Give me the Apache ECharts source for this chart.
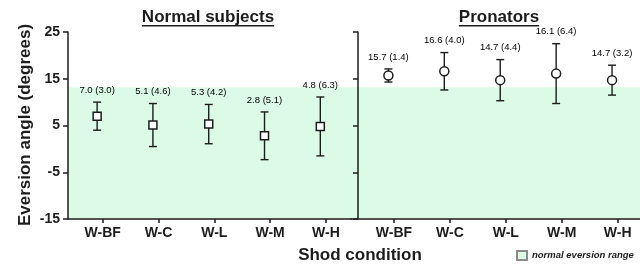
<!DOCTYPE html>
<html>
<head>
<meta charset="utf-8">
<script src="https://cdn.jsdelivr.net/npm/echarts@6/dist/echarts.min.js"></script>
<style>
  html, body { margin: 0; padding: 0; background: #fff; }
  #chart { width: 640px; height: 268px; }
</style>
</head>
<body>
<div id="chart"></div>
<script>
// ---- data ----
const categories = ['W-BF', 'W-C', 'W-L', 'W-M', 'W-H'];
const normalMean = [7.0, 5.1, 5.3, 2.8, 4.8];
const normalSD = [3.0, 4.6, 4.2, 5.1, 6.3];
const pronMean = [15.7, 16.6, 14.7, 16.1, 14.7];
const pronSD = [1.4, 4.0, 4.4, 6.4, 3.2];
const yTicks = [-15, -5, 5, 15, 25];
const normalRange = [-15, 13.2];
const panelTitles = ['Normal subjects', 'Pronators'];
const yTitle = 'Eversion angle (degrees)';
const xTitle = 'Shod condition';
const legendLabel = 'normal eversion range';

// ---- style ----
const FONT = '"Liberation Sans", Arial, Helvetica, sans-serif';
const INK = '#1c1c1c';
const GREEN = '#dcfbe6';
const OFFSET = -0.1; // markers sit slightly left of the category tick

const chart = echarts.init(document.getElementById('chart'), null, { renderer: 'canvas' });

const catIdx = categories.map((_, i) => i);

function xAxisCfg(gridIndex, min, max) {
  return {
    type: 'value', gridIndex, min, max,
    axisLine: { show: true, onZero: false, lineStyle: { color: INK, width: 1.5 } },
    axisTick: { show: true, length: 4, customValues: catIdx, lineStyle: { color: INK, width: 1.5 } },
    axisLabel: {
      show: true, customValues: catIdx, margin: 7,
      formatter: v => categories[Math.round(v)] || '',
      fontFamily: FONT, fontWeight: 'bold', fontSize: 14, color: INK
    },
    splitLine: { show: false }
  };
}
function yAxisCfg(gridIndex, showLabels, offset) {
  return {
    type: 'value', gridIndex, min: yTicks[0], max: yTicks[yTicks.length - 1], offset,
    axisLine: { show: true, onZero: false, lineStyle: { color: INK, width: 1.5 } },
    axisTick: { show: true, length: 5, customValues: yTicks, lineStyle: { color: INK, width: 1.5 } },
    axisLabel: {
      show: showLabels, customValues: yTicks, margin: 8,
      fontFamily: FONT, fontWeight: 'bold', fontSize: 14, color: INK
    },
    splitLine: { show: false }
  };
}

function bandSeries(idx) {
  return {
    name: legendLabel,
    type: 'custom', xAxisIndex: idx, yAxisIndex: idx, z: -1, silent: true,
    itemStyle: { color: GREEN, borderColor: '#8a8a8a', borderWidth: 1 },
    data: [[normalRange[0], normalRange[1]]],
    renderItem: function (params, api) {
      const cs = params.coordSys;
      const yTop = api.coord([0, api.value(1)])[1];
      const yBot = api.coord([0, api.value(0)])[1];
      return {
        type: 'rect',
        shape: { x: cs.x, y: yTop, width: cs.width, height: yBot - yTop },
        style: { fill: GREEN }
      };
    }
  };
}

function errorSeries(idx, means, sds) {
  return {
    type: 'custom', xAxisIndex: idx, yAxisIndex: idx, z: 3, silent: true,
    data: means.map((m, i) => [i, m, sds[i]]),
    renderItem: function (params, api) {
      const x = api.value(0) + OFFSET, m = api.value(1), s = api.value(2);
      const top = api.coord([x, m + s]);
      const bot = api.coord([x, m - s]);
      const hw = 4;
      const ls = { stroke: INK, lineWidth: 1.4 };
      return {
        type: 'group',
        children: [
          { type: 'line', shape: { x1: top[0], y1: top[1], x2: bot[0], y2: bot[1] }, style: ls },
          { type: 'line', shape: { x1: top[0] - hw, y1: top[1], x2: top[0] + hw, y2: top[1] }, style: ls },
          { type: 'line', shape: { x1: bot[0] - hw, y1: bot[1], x2: bot[0] + hw, y2: bot[1] }, style: ls },
          {
            type: 'text', x: top[0], y: top[1] - 12,
            style: {
              text: m.toFixed(1) + ' (' + s.toFixed(1) + ')',
              fill: '#000', font: 'normal 9.5px ' + FONT,
              align: 'center', verticalAlign: 'middle'
            }
          }
        ]
      };
    }
  };
}

function markerSeries(idx, means, symbol, size) {
  return {
    type: 'custom', xAxisIndex: idx, yAxisIndex: idx, z: 4, silent: true,
    data: means.map((m, i) => [i, m]),
    renderItem: function (params, api) {
      const p = api.coord([api.value(0) + OFFSET, api.value(1)]);
      const style = { fill: '#fff', stroke: INK, lineWidth: 1.5 };
      if (symbol === 'rect') {
        return { type: 'rect', shape: { x: p[0] - size / 2, y: p[1] - size / 2, width: size, height: size }, style };
      }
      return { type: 'circle', shape: { cx: p[0], cy: p[1], r: size / 2 }, style };
    }
  };
}

// text measurement for underlines
const mctx = document.createElement('canvas').getContext('2d');
mctx.font = 'bold 17px ' + FONT;
function underlinedTitle(text, cx, cy) {
  const w = mctx.measureText(text).width;
  return [
    { type: 'text', x: cx, y: cy, style: { text, font: 'bold 17px ' + FONT, fill: INK, align: 'center', verticalAlign: 'middle' } },
    { type: 'rect', shape: { x: cx - w / 2, y: cy + 7.5, width: w, height: 1.6 }, style: { fill: INK } }
  ];
}

const option = {
  animation: false,
  backgroundColor: '#fff',
  grid: [
    { left: 68, top: 32, width: 283, height: 187 },
    { left: 351, top: 32, right: 0, height: 187 }
  ],
  xAxis: [xAxisCfg(0, -0.622, 4.45), xAxisCfg(1, -0.769, 4.40)],
  yAxis: [yAxisCfg(0, true, 0), yAxisCfg(1, false, -7)],
  legend: {
    show: true, data: [legendLabel], left: 516, top: 250,
    icon: 'rect', itemWidth: 10, itemHeight: 9, itemGap: 4, padding: 0,
    textStyle: { fontFamily: FONT, fontStyle: 'italic', fontWeight: 'bold', fontSize: 9.5, color: INK }
  },
  series: [
    bandSeries(0), bandSeries(1),
    errorSeries(0, normalMean, normalSD), errorSeries(1, pronMean, pronSD),
    markerSeries(0, normalMean, 'rect', 8), markerSeries(1, pronMean, 'circle', 9)
  ],
  graphic: [
    ...underlinedTitle(panelTitles[0], 208, 17.5),
    ...underlinedTitle(panelTitles[1], 499, 17.5),
    { type: 'text', x: 25.5, y: 125, rotation: Math.PI / 2,
      style: { text: yTitle, font: 'bold 17px ' + FONT, fill: INK, align: 'center', verticalAlign: 'middle' } },
    { type: 'text', x: 360, y: 255.5,
      style: { text: xTitle, font: 'bold 17px ' + FONT, fill: INK, align: 'center', verticalAlign: 'middle' } }
  ]
};

chart.setOption(option);
</script>
</body>
</html>
